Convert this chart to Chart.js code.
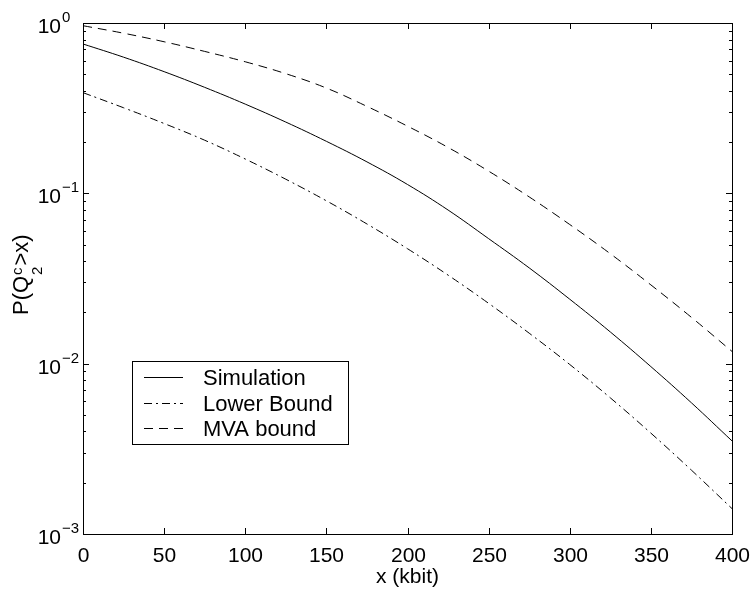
<!DOCTYPE html>
<html>
<head>
<meta charset="utf-8">
<script src="https://cdn.jsdelivr.net/npm/chart.js@4.4.1/dist/chart.umd.min.js"></script>
<style>
  html, body { margin: 0; padding: 0; background: #fff; }
  #wrap { width: 756px; height: 596px; }
</style>
</head>
<body>
<div id="wrap"><canvas id="chart" width="756" height="596"></canvas></div>
<script>
// values
var xValues = [0, 25, 50, 75, 100, 125, 150, 175, 200, 225, 250, 275, 300, 325, 350, 375, 400];
var simulation = [0.753, 0.630, 0.518, 0.419, 0.334, 0.262, 0.202, 0.153, 0.1127, 0.0798, 0.0542, 0.0365, 0.0239, 0.01535, 0.00961, 0.00589, 0.00352];
var lowerBound = [0.390, 0.318, 0.257, 0.205, 0.159, 0.121, 0.0904, 0.0661, 0.0473, 0.0331, 0.0226, 0.0151, 0.00989, 0.00630, 0.00391, 0.00237, 0.00141];
var mvaBound = [0.964, 0.871, 0.776, 0.681, 0.592, 0.504, 0.415, 0.324, 0.248, 0.186, 0.135, 0.0953, 0.0656, 0.0442, 0.0290, 0.0187, 0.0118];
var seriesNames = ["Simulation", "Lower Bound", "MVA bound"];
var xTickValues = [0, 50, 100, 150, 200, 250, 300, 350, 400];
var yTickExponents = [-3, -2, -1, 0];

var dashes = [[], [8, 4, 2, 4], [9, 6]];
var FONT = "Liberation Sans, Arial, Helvetica, sans-serif";

function points(ys) {
    var out = [];
    for (var i = 0; i < xValues.length; i++) {
        out.push({ x: xValues[i], y: ys[i] });
    }
    return out;
}

var allSeries = [simulation, lowerBound, mvaBound];
var datasets = [];
for (var s = 0; s < allSeries.length; s++) {
    datasets.push({
        label: seriesNames[s],
        data: points(allSeries[s]),
        borderColor: "#000",
        borderWidth: 1,
        borderDash: dashes[s],
        pointRadius: 0,
        fill: false,
        tension: 0.4
    });
}

var axesPlugin = {
    id: "matlabAxes",
    afterDraw: function (chart) {
        var ctx = chart.ctx;
        var a = chart.chartArea;
        var xs = chart.scales.x;
        var ys = chart.scales.y;
        ctx.save();
        ctx.strokeStyle = "#000";
        ctx.fillStyle = "#000";
        ctx.lineWidth = 1;
        ctx.setLineDash([]);

        // frame
        ctx.strokeRect(Math.round(a.left) + 0.5, Math.round(a.top) + 0.5,
            Math.round(a.right - a.left), Math.round(a.bottom - a.top));

        // x ticks and labels
        ctx.font = "21px " + FONT;
        ctx.textAlign = "center";
        ctx.textBaseline = "alphabetic";
        for (var i = 0; i < xTickValues.length; i++) {
            var px = Math.round(xs.getPixelForValue(xTickValues[i])) + 0.5;
            ctx.beginPath();
            ctx.moveTo(px, a.bottom);
            ctx.lineTo(px, a.bottom - 6);
            ctx.moveTo(px, a.top);
            ctx.lineTo(px, a.top + 6);
            ctx.stroke();
            ctx.fillText(String(xTickValues[i]), px, a.bottom + 28);
        }

        // y ticks (log minor ticks)
        for (var d = 0; d < yTickExponents.length - 1; d++) {
            for (var k = 1; k <= 9; k++) {
                var v = k * Math.pow(10, yTickExponents[d]);
                var py = Math.round(ys.getPixelForValue(v)) + 0.5;
                var len = k === 1 ? 6 : 3;
                ctx.beginPath();
                ctx.moveTo(a.left, py);
                ctx.lineTo(a.left + len, py);
                ctx.moveTo(a.right, py);
                ctx.lineTo(a.right - len, py);
                ctx.stroke();
            }
        }

        // y labels 10^n
        for (var j = 0; j < yTickExponents.length; j++) {
            var e = yTickExponents[j];
            var ty = ys.getPixelForValue(Math.pow(10, e));
            ctx.font = "21px " + FONT;
            ctx.textAlign = "right";
            ctx.fillText("10", 61, ty + 10);
            ctx.font = "15px " + FONT;
            ctx.textAlign = "left";
            ctx.fillText(e < 0 ? "\u2212" + Math.abs(e) : String(e), 62, ty - 1);
        }

        // x axis title
        ctx.font = "21px " + FONT;
        ctx.textAlign = "center";
        ctx.fillText("x (kbit)", (a.left + a.right) / 2, 583);

        // y axis title P(Q_2^c>x)
        ctx.save();
        ctx.translate(28, 315);
        ctx.rotate(-Math.PI / 2);
        ctx.textAlign = "left";
        ctx.font = "22px " + FONT;
        var u = 0;
        ctx.fillText("P(Q", u, 0);
        u += ctx.measureText("P(Q").width + 1;
        ctx.font = "15px " + FONT;
        ctx.fillText("c", u, -6);
        ctx.fillText("2", u, 14);
        u += ctx.measureText("2").width + 1;
        ctx.font = "22px " + FONT;
        ctx.fillText(">x)", u, 0);
        ctx.restore();

        // legend
        var lx = 132, ltop = 361, lright = 348, lbottom = 444;
        var rows = [377, 402.5, 428];
        ctx.fillStyle = "#fff";
        ctx.fillRect(lx, ltop, lright - lx, lbottom - ltop);
        ctx.strokeRect(lx + 0.5, ltop + 0.5, lright - lx, lbottom - ltop);
        ctx.fillStyle = "#000";
        ctx.font = "22px " + FONT;
        ctx.textAlign = "left";
        for (var r = 0; r < seriesNames.length; r++) {
            var ry = Math.round(rows[r]) + 0.5;
            ctx.setLineDash(dashes[r]);
            ctx.beginPath();
            ctx.moveTo(144, ry);
            ctx.lineTo(183, ry);
            ctx.stroke();
            ctx.setLineDash([]);
            ctx.fillText(seriesNames[r], 203, rows[r] + 8);
        }
        ctx.restore();
    }
};

var chart = new Chart(document.getElementById("chart"), {
    type: "line",
    data: { datasets: datasets },
    options: {
        responsive: false,
        animation: false,
        events: [],
        layout: { padding: { left: 0, top: 23, right: 24, bottom: 0 } },
        plugins: { legend: { display: false }, tooltip: { enabled: false } },
        scales: {
            x: {
                type: "linear",
                min: 0,
                max: 400,
                grid: { display: false },
                border: { display: false },
                ticks: { display: false },
                afterFit: function (scale) { scale.height = 62; }
            },
            y: {
                type: "logarithmic",
                min: 0.001,
                max: 1,
                grid: { display: false },
                border: { display: false },
                ticks: { display: false },
                afterFit: function (scale) { scale.width = 83; }
            }
        }
    },
    plugins: [axesPlugin]
});
</script>
</body>
</html>
